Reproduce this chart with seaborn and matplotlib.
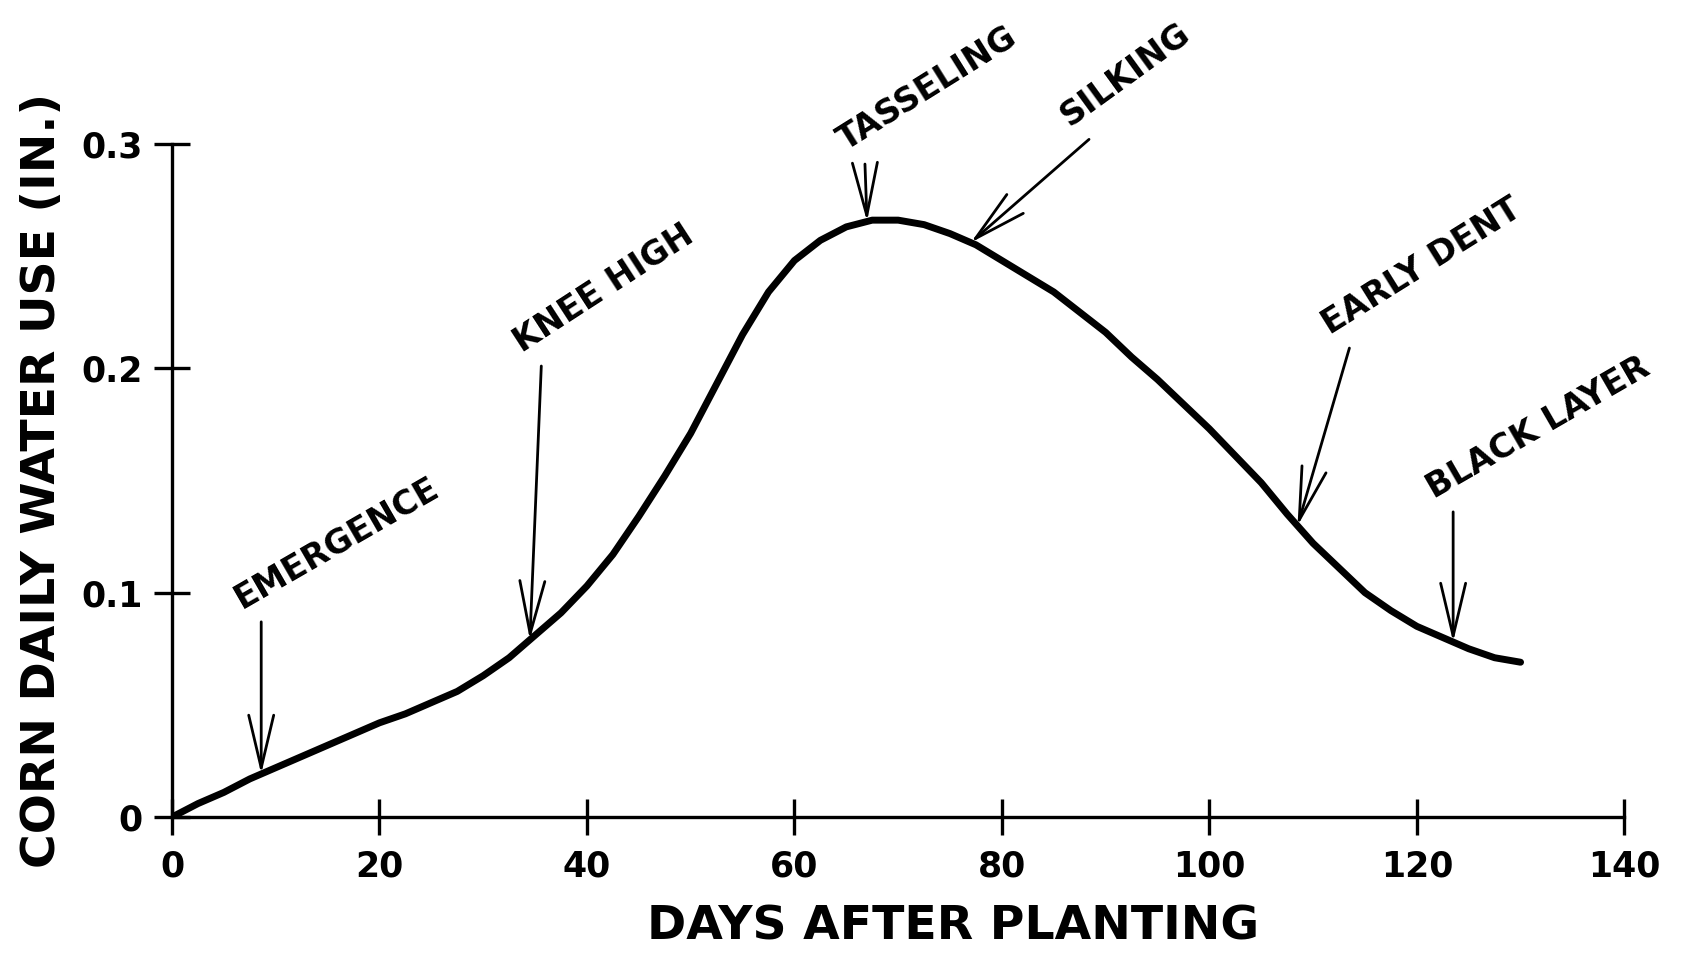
import numpy as np
import pandas as pd
import matplotlib.pyplot as plt
import seaborn as sns

# water use curve (every 2.5 days)
days = [0, 2.5, 5, 7.5, 10, 12.5, 15, 17.5, 20, 22.5, 25, 27.5, 30, 32.5, 35, 37.5,
        40, 42.5, 45, 47.5, 50, 52.5, 55, 57.5, 60, 62.5, 65, 67.5, 70, 72.5, 75,
        77.5, 80, 82.5, 85, 87.5, 90, 92.5, 95, 97.5, 100, 102.5, 105, 107.5, 110,
        112.5, 115, 117.5, 120, 122.5, 125, 127.5, 130]
water_use = [0.000, 0.006, 0.011, 0.017, 0.022, 0.027, 0.032, 0.037, 0.042, 0.046,
             0.051, 0.056, 0.063, 0.071, 0.081, 0.091, 0.103, 0.117, 0.134, 0.152,
             0.171, 0.193, 0.215, 0.234, 0.248, 0.257, 0.263, 0.266, 0.266, 0.264,
             0.260, 0.255, 0.248, 0.241, 0.234, 0.225, 0.216, 0.205, 0.195, 0.184,
             0.173, 0.161, 0.149, 0.135, 0.122, 0.111, 0.100, 0.092, 0.085, 0.080,
             0.075, 0.071, 0.069]

# growth stages and the day each one points at
stages = ["EMERGENCE", "KNEE HIGH", "TASSELING", "SILKING", "EARLY DENT", "BLACK LAYER"]
stage_days = [8.6, 34.5, 67.0, 77.0, 108.5, 123.5]

# where the label/arrow tail sits (day, value) and label angle
label_pos = [(8.6, 0.087), (35.6, 0.201), (66.8, 0.291), (88.4, 0.302), (113.5, 0.209), (123.5, 0.136)]
label_rot = [30, 33, 32, 36, 32, 30]

df = pd.DataFrame({"day": days, "use": water_use})

sns.set_theme(style="white")
plt.rcParams['font.family'] = ['DejaVu Sans']
plt.rcParams.update({"text.color": "black", "axes.labelcolor": "black",
                     "xtick.color": "black", "ytick.color": "black"})

fig = plt.figure(figsize=(17.08, 9.59), dpi=100)
ax = fig.add_axes([0.1007, 0.148, 0.8503, 0.702])

sns.lineplot(data=df, x="day", y="use", ax=ax, color="black", linewidth=5)

stage_vals = np.interp(stage_days, days, water_use)
for name, d, v, (tx, ty), rot in zip(stages, stage_days, stage_vals, label_pos, label_rot):
    ax.annotate("", xy=(d, v), xytext=(tx, ty),
                arrowprops=dict(arrowstyle="->,head_length=1.9,head_width=0.45",
                                mutation_scale=20, color="black", lw=2,
                                shrinkA=0, shrinkB=0))
    ax.text(tx - 1.5, ty + 0.003, name, rotation=rot, rotation_mode="anchor",
            ha="left", va="bottom", fontsize=24, fontweight="bold", color="black")

ax.set_xlim(0, 140)
ax.set_ylim(0, 0.3)
ax.set_xticks([0, 20, 40, 60, 80, 100, 120, 140])
ax.set_yticks([0, 0.1, 0.2, 0.3])
ax.set_yticklabels(["0", "0.1", "0.2", "0.3"])

for s in ["top", "right"]:
    ax.spines[s].set_visible(False)
for s in ["left", "bottom"]:
    ax.spines[s].set_color("black")
    ax.spines[s].set_linewidth(2.4)

ax.tick_params(axis="both", direction="inout", length=26, width=2.4, color="black",
               labelcolor="black", labelsize=25, bottom=True, left=True)
ax.tick_params(axis="x", pad=10)
ax.tick_params(axis="y", pad=8)
for lab in ax.get_xticklabels() + ax.get_yticklabels():
    lab.set_fontweight("bold")

ax.set_xlabel("DAYS AFTER PLANTING", fontsize=34, fontweight="bold", labelpad=18)
ax.xaxis.set_label_coords(0.5375, -0.13)
ax.set_ylabel("CORN DAILY WATER USE (IN.)", fontsize=34, fontweight="bold", labelpad=12)

fig.savefig("out.png", dpi=100, facecolor="white")
